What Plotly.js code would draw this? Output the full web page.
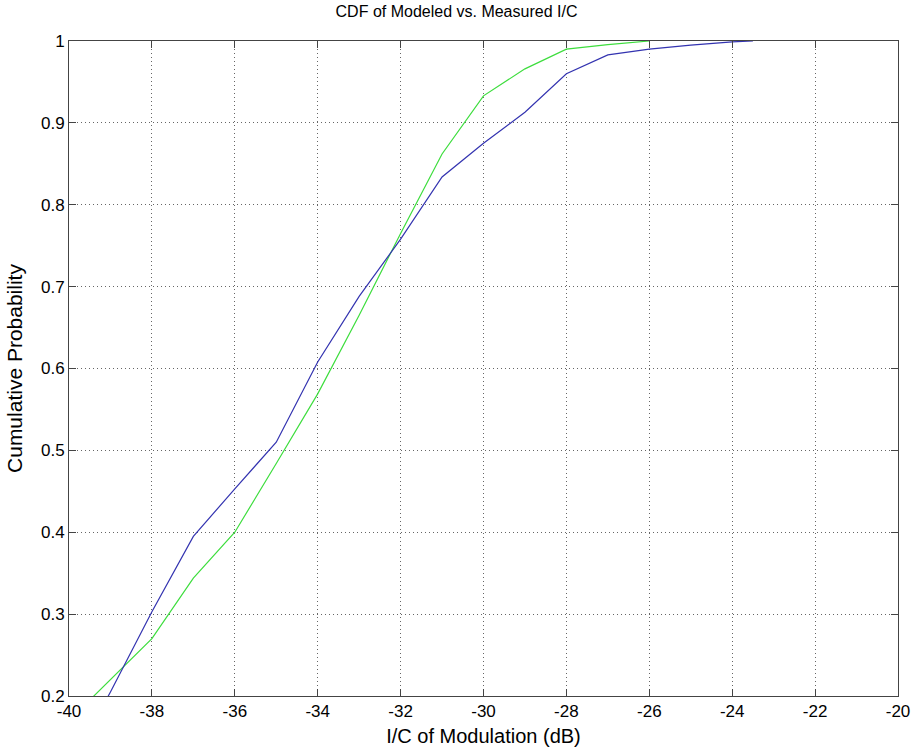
<!DOCTYPE html>
<html>
<head>
<meta charset="utf-8">
<script src="https://cdn.plot.ly/plotly-3.0.1.min.js"></script>
<style>
html, body { margin: 0; padding: 0; background: #ffffff; }
#chart { width: 913px; height: 749px; }
</style>
</head>
<body>
<div id="chart"></div>
<script>
// Measured I/C CDF (blue)
var measuredX = [-40, -39, -38, -37, -36, -35, -34, -33, -32, -31, -30, -29, -28, -27, -26, -25, -24, -23.5];
var measuredY = [0.11, 0.205, 0.303, 0.395, 0.453, 0.51, 0.608, 0.688, 0.758, 0.834, 0.875, 0.913, 0.96, 0.983, 0.99, 0.995, 0.999, 1.0];

// Modeled I/C CDF (green)
var modeledX = [-40, -39, -38, -37, -36, -35, -34, -33, -32, -31, -30, -29, -28, -27, -26];
var modeledY = [0.17, 0.22, 0.27, 0.344, 0.40, 0.484, 0.569, 0.665, 0.765, 0.862, 0.933, 0.966, 0.99, 0.9955, 1.0];

var xTickVals = [-40, -38, -36, -34, -32, -30, -28, -26, -24, -22, -20];
var xTickText = ['-40', '-38', '-36', '-34', '-32', '-30', '-28', '-26', '-24', '-22', '-20'];
var yTickVals = [0.2, 0.3, 0.4, 0.5, 0.6, 0.7, 0.8, 0.9, 1.0];
var yTickText = ['0.2', '0.3', '0.4', '0.5', '0.6', '0.7', '0.8', '0.9', '1'];

var traces = [
  {
    x: modeledX, y: modeledY, type: 'scatter', mode: 'lines',
    line: { color: '#3ddd3d', width: 1.2 }, name: 'Modeled', hoverinfo: 'x+y'
  },
  {
    x: measuredX, y: measuredY, type: 'scatter', mode: 'lines',
    line: { color: '#3333b0', width: 1.2 }, name: 'Measured', hoverinfo: 'x+y'
  }
];

var axisCommon = {
  showline: true, linecolor: '#444', linewidth: 1, mirror: 'ticks',
  ticks: 'inside', ticklen: 7, tickcolor: '#444', tickwidth: 1,
  showgrid: true, gridcolor: '#666', griddash: '1px,3px', gridwidth: 1,
  zeroline: false,
  tickfont: { family: 'Liberation Sans, Arial, sans-serif', size: 17, color: '#000' }
};

var layout = {
  width: 913, height: 749,
  margin: { l: 69, r: 15, t: 41, b: 53 },
  paper_bgcolor: '#ffffff', plot_bgcolor: '#ffffff',
  showlegend: false,
  title: {
    text: 'CDF of Modeled vs. Measured I/C',
    font: { family: 'Liberation Sans, Arial, sans-serif', size: 16, color: '#000' },
    x: 0.5, xanchor: 'center', y: 0.992, yanchor: 'top'
  },
  xaxis: Object.assign({}, axisCommon, {
    range: [-40, -20], tickvals: xTickVals, ticktext: xTickText,
    title: { text: 'I/C of Modulation (dB)', standoff: 8,
      font: { family: 'Liberation Sans, Arial, sans-serif', size: 20, color: '#000' } }
  }),
  yaxis: Object.assign({}, axisCommon, {
    range: [0.2, 1.0], tickvals: yTickVals, ticktext: yTickText,
    title: { text: 'Cumulative Probability', standoff: 12,
      font: { family: 'Liberation Sans, Arial, sans-serif', size: 21, color: '#000' } }
  })
};

Plotly.newPlot('chart', traces, layout, { displayModeBar: false, staticPlot: true });
</script>
</body>
</html>
